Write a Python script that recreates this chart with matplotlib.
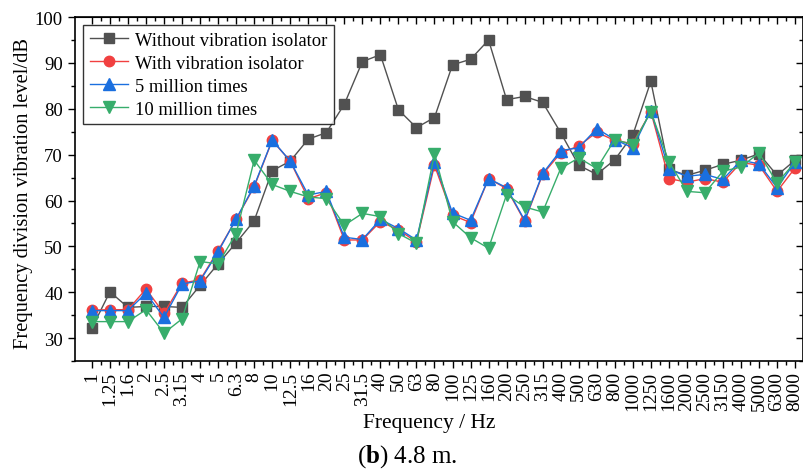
import numpy as np
import matplotlib.pyplot as plt
from matplotlib.ticker import MultipleLocator, FixedLocator

plt.rcParams['font.family'] = ['Liberation Serif', 'DejaVu Serif']
plt.rcParams['mathtext.fontset'] = 'custom'
plt.rcParams['mathtext.rm'] = 'Liberation Serif'
plt.rcParams['mathtext.bf'] = 'Liberation Serif:bold'

freqs = ['1', '1.25', '1.6', '2', '2.5', '3.15', '4', '5', '6.3', '8', '10', '12.5',
         '16', '20', '25', '31.5', '40', '50', '63', '80', '100', '125', '160', '200',
         '250', '315', '400', '500', '630', '800', '1000', '1250', '1600', '2000',
         '2500', '3150', '4000', '5000', '6300', '8000']

without_iso = [32.2, 40.1, 36.7, 36.9, 36.9, 36.7, 41.5, 46.2, 50.8, 55.6, 66.5, 68.6,
               73.4, 74.8, 81.0, 90.3, 91.8, 79.8, 75.9, 78.1, 89.6, 90.8, 95.0, 82.0,
               82.7, 81.4, 74.8, 67.7, 65.7, 68.9, 74.3, 86.0, 66.8, 65.5, 66.6, 67.9,
               68.8, 70.2, 65.5, 68.8]
with_iso = [36.1, 36.2, 36.2, 40.7, 35.4, 42.0, 42.7, 49.1, 55.9, 63.0, 73.1, 68.6,
            60.4, 61.7, 51.4, 51.4, 55.4, 53.6, 51.0, 67.7, 56.8, 55.2, 64.8, 62.6,
            55.5, 65.7, 70.4, 71.9, 74.9, 73.1, 72.4, 79.4, 64.8, 64.0, 64.8, 64.0,
            68.3, 67.7, 62.0, 67.1]
five_million = [36.0, 36.0, 36.0, 39.8, 34.5, 41.8, 42.5, 48.8, 56.0, 63.2, 73.2, 68.6,
                61.2, 62.0, 52.0, 51.5, 55.9, 53.9, 51.4, 68.4, 57.3, 55.7, 64.8, 62.8,
                55.7, 65.9, 70.9, 71.5, 75.7, 73.3, 71.5, 79.6, 66.8, 65.3, 65.7, 64.6,
                68.8, 68.0, 62.8, 68.4]
ten_million = [33.6, 33.6, 33.6, 36.2, 31.1, 34.2, 46.7, 46.2, 52.8, 68.8, 63.5, 62.0,
               60.8, 60.4, 54.6, 57.2, 56.5, 52.8, 50.7, 70.2, 55.4, 51.9, 49.6, 61.3,
               58.6, 57.5, 67.0, 69.3, 67.0, 73.3, 72.2, 79.4, 68.5, 62.0, 61.7, 66.4,
               67.3, 70.4, 63.8, 68.4]

x = np.arange(len(freqs))

fig = plt.figure(figsize=(8.04, 4.77), dpi=100)
ax = fig.add_axes([0.093, 0.241, 0.906, 0.721])

ms = 7.5
ax.plot(x, without_iso, c='#515151', marker='s', ms=ms, lw=1, label='Without vibration isolator')
ax.plot(x, with_iso, c='#F14040', marker='o', ms=ms, lw=1, label='With vibration isolator')
ax.plot(x, five_million, c='#1A6FDF', marker='^', ms=ms + 0.5, lw=1, label='5 million times')
ax.plot(x, ten_million, c='#37AD6B', marker='v', ms=ms + 0.5, lw=1, label='10 million times')

ax.set_xlim(-0.95, 39.45)
ax.set_ylim(25, 100)
ax.set_xticks(x)
ax.set_xticklabels(freqs, rotation=90, fontsize=14)
ax.xaxis.set_minor_locator(FixedLocator(x + 0.5))
ax.set_yticks(np.arange(30, 101, 10))
ax.yaxis.set_minor_locator(MultipleLocator(5))
ax.tick_params(axis='y', labelsize=13.5)
ax.tick_params(axis='x', pad=2)
ax.tick_params(which='major', direction='out', length=5, width=1)
ax.tick_params(which='minor', direction='out', length=3, width=1)
for s in ax.spines.values():
    s.set_linewidth(1.2)

# top and right ticks point inwards
top = ax.secondary_xaxis('top')
top.set_xticks(x)
top.xaxis.set_minor_locator(FixedLocator(x + 0.5))
top.tick_params(which='major', direction='in', length=5, width=1, labeltop=False)
top.tick_params(which='minor', direction='in', length=3, width=1)
right = ax.secondary_yaxis('right')
right.set_yticks(np.arange(30, 101, 10))
right.yaxis.set_minor_locator(MultipleLocator(5))
right.tick_params(which='major', direction='in', length=5, width=1, labelright=False)
right.tick_params(which='minor', direction='in', length=3, width=1)

ax.set_xlabel('Frequency / Hz', fontsize=15.5)
ax.xaxis.set_label_coords(0.486, -0.152)
ax.set_ylabel('Frequency division vibration level/dB', fontsize=14.8)
ax.yaxis.set_label_coords(-0.057, 0.49)

leg = ax.legend(loc='upper left', fontsize=13.3, frameon=True, fancybox=False,
                edgecolor='black', handlelength=2.1, borderpad=0.35, labelspacing=0.32,
                handletextpad=0.35, borderaxespad=0.45)
leg.get_frame().set_linewidth(1)

fig.text(0.506, 0.042, r'($\mathbf{b}$) 4.8 m.', ha='center', va='center', fontsize=18)

fig.savefig('out.png', dpi=100)
